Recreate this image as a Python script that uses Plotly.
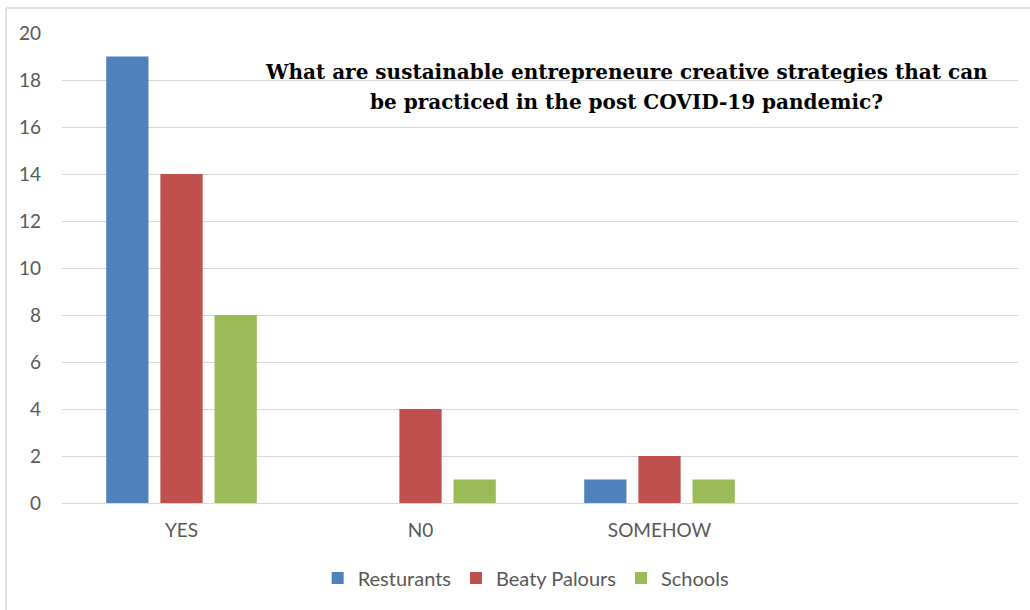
import plotly.graph_objects as go

categories = ["YES", "N0", "SOMEHOW", " "]
resturants = [19, None, 1]
beaty_palours = [14, 4, 2]
schools = [8, 1, 1]
y_ticks = [0, 2, 4, 6, 8, 10, 12, 14, 16, 18, 20]

title_lines = [
    "What are sustainable entrepreneure creative strategies that can",
    "be practiced in the post COVID-19 pandemic?",
]

series = [
    ("Resturants", resturants, "#4F81BD"),
    ("Beaty Palours", beaty_palours, "#C0504D"),
    ("Schools", schools, "#9BBB59"),
]

fig = go.Figure()
for name, vals, color in series:
    fig.add_trace(go.Bar(
        name=name,
        x=categories[:len(vals)],
        y=vals,
        marker=dict(color=color, line=dict(width=0)),
    ))

W, H = 1030, 610
L, R, T, B = 62, 12, 33, 107
pw, ph = W - L - R, H - T - B

def px_x(px):
    return (px - L) / pw

def px_y(py):
    return (H - B - py) / ph

axis_font = dict(family="Lato, Open Sans, sans-serif", size=19, color="#595959")
legend_font = dict(family="Lato, Open Sans, sans-serif", size=20, color="#595959")
title_font = dict(family="DejaVu Serif, Liberation Serif, serif", size=20, color="#000000")

title_annotations = [
    dict(
        text="<b>" + line + "</b>",
        xref="paper", yref="paper",
        x=px_x(626), y=px_y(ypos),
        xanchor="center", yanchor="middle",
        showarrow=False,
        font=title_font,
    )
    for line, ypos in zip(title_lines, [72, 102])
]

fig.update_layout(
    width=W,
    height=H,
    margin=dict(l=L, r=R, t=T, b=B),
    paper_bgcolor="white",
    plot_bgcolor="white",
    barmode="group",
    bargap=0.32,
    bargroupgap=0.22,
    showlegend=True,
    legend=dict(
        orientation="h",
        x=0.485, xanchor="center",
        y=px_y(578), yanchor="middle",
        font=legend_font,
        itemwidth=30,
        traceorder="normal",
    ),
    xaxis=dict(
        type="category",
        categoryorder="array",
        categoryarray=categories,
        range=[-0.5, 3.5],
        tickfont=axis_font,
        showgrid=False,
        showline=False,
        ticks="",
        ticklabelstandoff=14,
    ),
    yaxis=dict(
        range=[0, 20],
        tickvals=y_ticks,
        tickfont=axis_font,
        showgrid=True,
        gridcolor="#D9D9D9",
        gridwidth=1,
        zeroline=True,
        zerolinecolor="#D9D9D9",
        zerolinewidth=1,
        showline=False,
        ticks="",
        ticklabelstandoff=20,
    ),
    annotations=title_annotations,
    shapes=[
        dict(type="line", xref="paper", yref="paper",
             x0=px_x(6), x1=px_x(1030), y0=px_y(8), y1=px_y(8),
             line=dict(color="#D9D9D9", width=1.5)),
        dict(type="line", xref="paper", yref="paper",
             x0=px_x(6), x1=px_x(6), y0=px_y(8), y1=px_y(610),
             line=dict(color="#D9D9D9", width=1.5)),
    ],
)

fig.write_html("out.html")
